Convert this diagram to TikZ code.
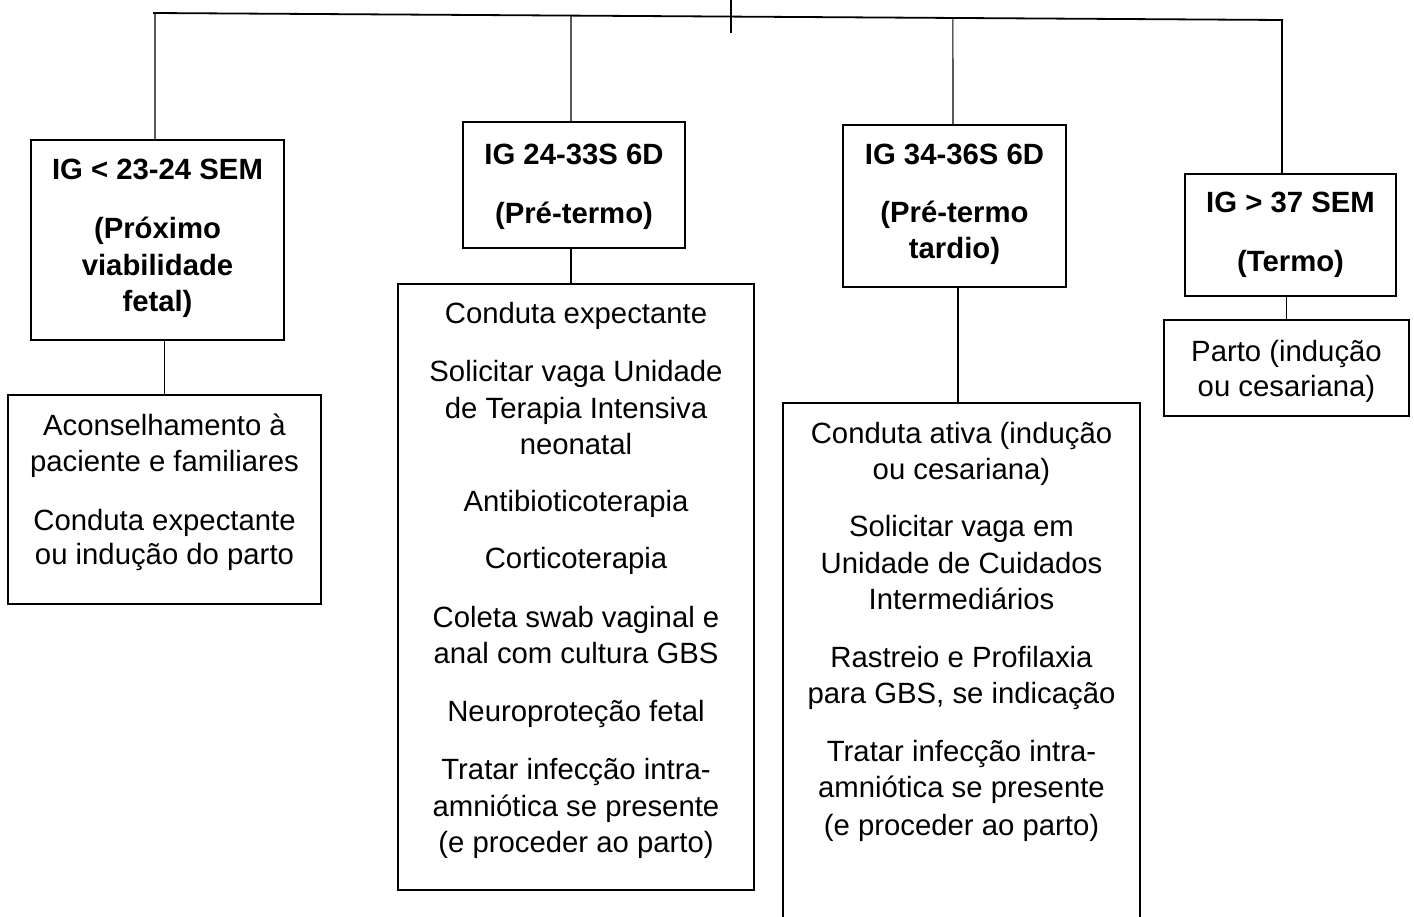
\documentclass[tikz,border=0pt]{standalone}
\usepackage{fontspec}
\setmainfont{Liberation Sans}
\usetikzlibrary{calc}
\begin{document}
\begin{tikzpicture}[x=1pt,y=-1pt,
  box/.style={draw=black,line width=1.8pt,inner sep=0pt,outer sep=0pt,rectangle},
  conn/.style={draw=black,line width=1.1pt},
  topline/.style={draw=black,line width=1.8pt},
  txt/.style={anchor=base,inner sep=0pt,font=\fontsize{29.3}{36}\selectfont},
  ttl/.style={txt,font=\fontsize{29.3}{36}\selectfont\bfseries}]
\clip (0,0) rectangle (1414,916);
\useasboundingbox (0,0) rectangle (1414,916);

% boxes
\node[box,minimum width=253pt,minimum height=200pt] (A1) at (157.5,240) {};
\node[box,minimum width=313pt,minimum height=209pt] (A2) at (164.5,499.5) {};
\node[box,minimum width=222pt,minimum height=126pt] (B1) at (574,185) {};
\node[box,minimum width=356pt,minimum height=606pt] (B2) at (576,587) {};
\node[box,minimum width=223pt,minimum height=162pt] (C1) at (954.5,206) {};
\node[box,minimum width=357pt,minimum height=527pt] (C2) at (961.5,666.5) {};
\node[box,minimum width=211pt,minimum height=122pt] (D1) at (1290.5,235) {};
\node[box,minimum width=245pt,minimum height=96pt] (D2) at (1286.5,368) {};

% top line and branches
\coordinate (TL) at (153,13);
\coordinate (TR) at (1283,20);
\coordinate (Ctop) at (731,-2);
\coordinate (Cbot) at (731,33);
\coordinate (cA) at (155,0);
\coordinate (cB) at (571,0);
\coordinate (cC2) at (953,0);
\coordinate (cD) at (1282,0);
\coordinate (cC) at (958,0);
\draw[topline] (TL) -- (TR);
\draw[conn] (Ctop) -- (Cbot);
\draw[conn] ($(TL)!(cA |- TL)!(TR)$) -- (A1.north -| cA);
\draw[conn] ($(TL)!(cB |- TL)!(TR)$) -- (B1.north -| cB);
\draw[conn] ($(TL)!(cC2 |- TL)!(TR)$) -- (C1.north -| cC2);
\draw[conn] (TR -| cD) -- (D1.north -| cD);

% box to box
\draw[conn] (A2.north |- A1.south) -- (A2.north);
\draw[conn] (B1.south -| cB) -- (B2.north -| cB);
\draw[conn] (C1.south -| cC) -- (C2.north -| cC);
\draw[conn] (D2.north |- D1.south) -- (D2.north);

% texts A
\node[ttl] (a1) at (157.5,179) {IG < 23-24 SEM};
\node[ttl] (a2) at (157.5,238) {(Próximo};
\node[ttl] (a3) at (157.5,275) {viabilidade};
\node[ttl] (a4) at (157.5,311) {fetal)};
\node[txt] (a5) at (164.5,435) {Aconselhamento à};
\node[txt] (a6) at (164.5,471) {paciente e familiares};
\node[txt] (a7) at (164.5,530) {Conduta expectante};
\node[txt] (a8) at (164.5,564) {ou indução do parto};

% texts B
\node[ttl] (b1) at (574,164) {IG 24-33S 6D};
\node[ttl] (b2) at (574,223) {(Pré-termo)};
\node[txt] (b3) at (576,323) {Conduta expectante};
\node[txt] (b4) at (576,381) {Solicitar vaga Unidade};
\node[txt] (b5) at (576,418) {de Terapia Intensiva};
\node[txt] (b6) at (576,454) {neonatal};
\node[txt] (b7) at (576,511) {Antibioticoterapia};
\node[txt] (b8) at (576,568) {Corticoterapia};
\node[txt] (b9) at (576,627) {Coleta swab vaginal e};
\node[txt] (b10) at (576,663) {anal com cultura GBS};
\node[txt] (b11) at (576,721) {Neuroproteção fetal};
\node[txt] (b12) at (576,779) {Tratar infecção intra-};
\node[txt] (b13) at (576,816) {amniótica se presente};
\node[txt] (b14) at (576,852) {(e proceder ao parto)};

% texts C
\node[ttl] (c1) at (954.5,164) {IG 34-36S 6D};
\node[ttl] (c2) at (954.5,222) {(Pré-termo};
\node[ttl] (c3) at (954.5,258) {tardio)};
\node[txt] (c4) at (961.5,443) {Conduta ativa (indução};
\node[txt] (c5) at (961.5,479) {ou cesariana)};
\node[txt] (c6) at (961.5,536) {Solicitar vaga em};
\node[txt] (c7) at (961.5,573) {Unidade de Cuidados};
\node[txt] (c8) at (961.5,609) {Intermediários};
\node[txt] (c9) at (961.5,667) {Rastreio e Profilaxia};
\node[txt] (c10) at (961.5,703) {para GBS, se indicação};
\node[txt] (c11) at (961.5,761) {Tratar infecção intra-};
\node[txt] (c12) at (961.5,797) {amniótica se presente};
\node[txt] (c13) at (961.5,835) {(e proceder ao parto)};

% texts D
\node[ttl] (d1) at (1290.5,212) {IG > 37 SEM};
\node[ttl] (d2) at (1290.5,271) {(Termo)};
\node[txt] (d3) at (1286.5,361) {Parto (indução};
\node[txt] (d4) at (1286.5,396) {ou cesariana)};
\end{tikzpicture}
\end{document}
